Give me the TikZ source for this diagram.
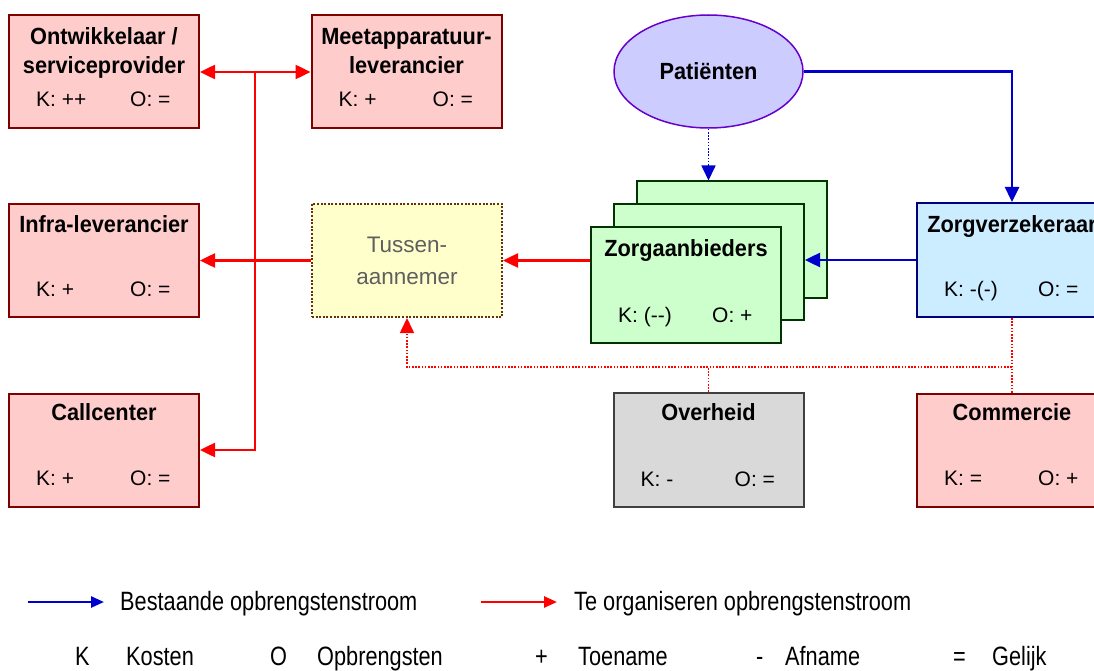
\documentclass[tikz,border=0pt]{standalone}
\usepackage{fontspec}
\setmainfont{Liberation Sans}
\newfontfamily\titlefont{Liberation Sans}[FakeStretch=0.93]
\newfontfamily\legendfont{Liberation Sans}[FakeStretch=0.82]
\usetikzlibrary{arrows.meta,shapes.geometric}

\definecolor{boxred}{HTML}{FFCCCC}
\definecolor{edgered}{HTML}{800000}
\definecolor{boxgreen}{HTML}{CCFFCC}
\definecolor{edgegreen}{HTML}{003300}
\definecolor{boxblue}{HTML}{CCECFF}
\definecolor{edgeblue}{HTML}{000080}
\definecolor{boxyellow}{HTML}{FFFFCC}
\definecolor{edgebrown}{HTML}{663300}
\definecolor{boxgrey}{HTML}{D9D9D9}
\definecolor{edgegrey}{HTML}{404040}
\definecolor{ellfill}{HTML}{CCCCFF}
\definecolor{elledge}{HTML}{6600CC}
\definecolor{flowred}{HTML}{FF0000}
\definecolor{flowblue}{HTML}{0000CC}
\definecolor{greytext}{HTML}{5F5F5F}

% cost / revenue line of a party box: #1 box, #2 K value, #3 O value
\newcommand\korow[3]{%
  \node[kotext] at ([xshift=28pt,yshift=22pt]#1.south west) {K: #2};
  \node[kotext] at ([xshift=122pt,yshift=22pt]#1.south west) {O: #3};}

\tikzset{
  party/.style={draw, line width=2pt, minimum width=190pt, minimum height=113pt, inner sep=0pt},
  redbox/.style={party, fill=boxred, draw=edgered},
  greenbox/.style={party, fill=boxgreen, draw=edgegreen, minimum height=116pt},
  bluebox/.style={party, fill=boxblue, draw=edgeblue, minimum height=114pt},
  greybox/.style={party, fill=boxgrey, draw=edgegrey, minimum height=114pt},
  midbox/.style={party, fill=boxyellow, draw=edgebrown, dash pattern=on 2pt off 1.6pt},
  title/.style={font=\titlefont\bfseries\fontsize{23.4}{28}\selectfont, anchor=base, inner sep=0pt},
  midtitle/.style={font=\fontsize{22.5}{28}\selectfont, anchor=base, inner sep=0pt, text=greytext},
  kotext/.style={font=\fontsize{21}{25}\selectfont, anchor=base west, inner sep=0pt},
  legtext/.style={font=\legendfont\fontsize{26.5}{30}\selectfont, anchor=base west, inner sep=0pt},
  tip/.style={-{Triangle[length=15pt,width=14pt]}},
  redflow/.style={draw=flowred, line width=2.5pt, tip},
  blueflow/.style={draw=flowblue, line width=2.5pt, tip},
  dotline/.style={line width=1.6pt, dash pattern=on 1.6pt off 1.6pt},
  legarrow/.style={line width=2.5pt, -{Triangle[length=13pt,width=11pt]}},
}

\begin{document}
\begin{tikzpicture}[x=1pt,y=-1pt]
\useasboundingbox (0,0) rectangle (1094,671);
\clip (0,0) rectangle (1094,671);

% parties on the left
\node[redbox] (ontw) at (104,71.5) {};
\node[redbox] (meet) at (406.5,71.5) {};
\node[redbox] (infra) at (104,260.5) {};
\node[redbox] (call) at (104,450) {};
\node[midbox] (tussen) at (407,260.5) {};

% patients, care providers and insurer
\node[draw=elledge, fill=ellfill, ellipse, line width=1.5pt, minimum width=189pt, minimum height=113pt, inner sep=0pt] (pat) at (708.5,71.5) {};
\node[greenbox] (back) at (732,239.5) {};
\node[greenbox] (mid) at (709,262) {};
\node[greenbox] (front) at (686,285) {};
\node[bluebox] (verz) at (1012,260) {};
\node[greybox] (over) at (708.5,450) {};
\node[redbox] (comm) at (1012,450) {};

% texts
\node[title] at ([yshift=-31pt]ontw.north) {Ontwikkelaar /};
\node[title] at ([yshift=-60pt]ontw.north) {serviceprovider};
\korow{ontw}{++}{=}
\node[title] at ([yshift=-31pt]meet.north) {Meetapparatuur-};
\node[title] at ([yshift=-60pt]meet.north) {leverancier};
\korow{meet}{+}{=}
\node[title] at ([yshift=-29pt]infra.north) {Infra-leverancier};
\korow{infra}{+}{=}
\node[title] at ([yshift=-28pt]call.north) {Callcenter};
\korow{call}{+}{=}
\node[midtitle] at ([yshift=-49pt]tussen.north) {Tussen-};
\node[midtitle] at ([yshift=-81pt]tussen.north) {aannemer};
\node[title] at ([yshift=-8.5pt]pat.center) {Patiënten};
\node[title] at ([yshift=-30pt]front.north) {Zorgaanbieders};
\korow{front}{(-{}-)}{+}
\node[title] at ([yshift=-30pt]verz.north) {Zorgverzekeraar};
\korow{verz}{-(-)}{=}
\node[title] at ([yshift=-28pt]over.north) {Overheid};
\korow{over}{-}{=}
\node[title] at ([yshift=-28pt]comm.north) {Commercie};
\korow{comm}{=}{+}

% revenue streams still to be organised
\coordinate (jn) at (255,72);
\coordinate (jm) at (255,260.5);
\draw[redflow, {Triangle[length=15pt,width=14pt]}-{Triangle[length=15pt,width=14pt]}] (ontw.east |- jn) -- (meet.west |- jn);
\draw[redflow, -] (jn) -- (jm);
\draw[redflow] (jm) |- (call.east);
\draw[redflow] (tussen.west) -- (infra.east);
\draw[redflow] (front.west |- tussen.east) -- (tussen.east);

% existing revenue streams
\draw[blueflow] (verz.west) -- (mid.east |- verz.west);
\draw[blueflow] (pat.east) -| (verz.north);
\draw[draw=flowblue, dotline, tip] (pat.south) -- (pat.south |- back.north);

% contributions towards the subcontractor
\coordinate (bus) at (0,367);
\draw[draw=flowred, dotline] (verz.south) -- (verz.south |- bus);
\draw[draw=flowred, dotline] (over.north) -- (over.north |- bus);
\draw[draw=flowred, dotline] (comm.north) -- (comm.north |- bus);
\draw[draw=flowred, dotline, tip] (verz.south |- bus) -| (tussen.south);

% legend
\coordinate (lb1) at (28,602);
\coordinate (lb2) at (104,602);
\coordinate (lr1) at (481,602);
\coordinate (lr2) at (557,602);
\draw[legarrow, draw=flowblue] (lb1) -- (lb2);
\draw[legarrow, draw=flowred] (lr1) -- (lr2);
\node[legtext] at (120,610) {Bestaande opbrengstenstroom};
\node[legtext] at (574,610) {Te organiseren opbrengstenstroom};
\node[legtext] at (75,665) {K};
\node[legtext] at (126,665) {Kosten};
\node[legtext] at (270,665) {O};
\node[legtext] at (317,665) {Opbrengsten};
\node[legtext] at (535,665) {+};
\node[legtext] at (578,665) {Toename};
\node[legtext] at (756,665) {-};
\node[legtext] at (785,665) {Afname};
\node[legtext] at (953,665) {=};
\node[legtext] at (992,665) {Gelijk};
\end{tikzpicture}
\end{document}
